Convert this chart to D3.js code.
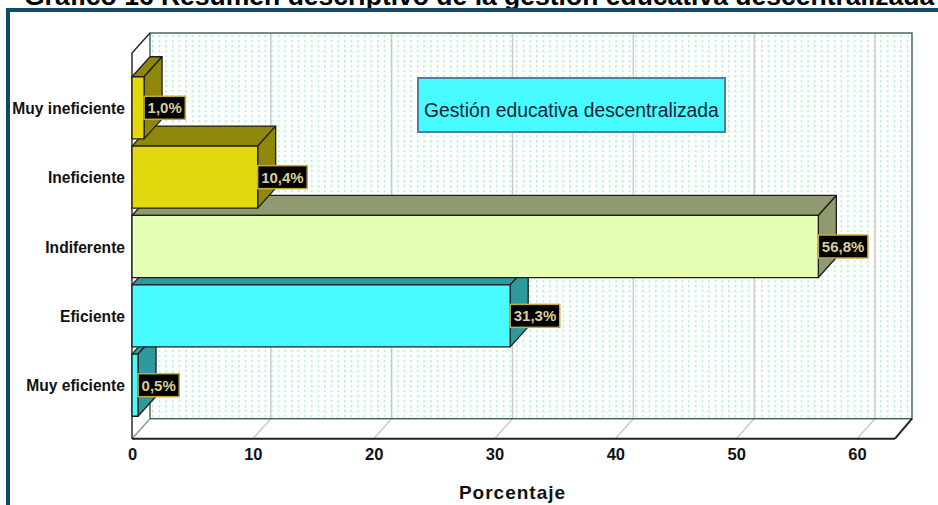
<!DOCTYPE html>
<html>
<head>
<meta charset="utf-8">
<script src="https://cdn.jsdelivr.net/npm/d3@7"></script>
<style>
  body { margin: 0; background: #fff; }
  svg { display: block; }
  text { font-family: "Liberation Sans", Arial, sans-serif; }
</style>
</head>
<body>
<div id="my_dataviz"></div>
<script>
// values, top bar first
var categories = ["Muy ineficiente", "Ineficiente", "Indiferente", "Eficiente", "Muy eficiente"];
var percentages = [1.0, 10.4, 56.8, 31.3, 0.5];
var xTicks = [0, 10, 20, 30, 40, 50, 60];
var frontColors = ["#e3d80e", "#e3d80e", "#e6ffb4", "#47fbff", "#47fbff"];
var sideColors = ["#8f870a", "#8f870a", "#909a70", "#2e9a9e", "#2e9a9e"];

var titleText = "Gráfico 16 Resumen descriptivo de la gestión educativa descentralizada";
var legendText = "Gestión educativa descentralizada";
var xTitle = "Porcentaje";

var width = 938, height = 505;
var plot = {left: 132, right: 895, top: 53, bottom: 438.7};
var depth = {x: 18, y: -20};

var svg = d3.select("#my_dataviz")
  .append("svg")
    .attr("width", width)
    .attr("height", height);

// dotted back wall
var defs = svg.append("defs");
defs.append("pattern")
    .attr("id", "dots")
    .attr("patternUnits", "userSpaceOnUse")
    .attr("x", 152)
    .attr("y", 35)
    .attr("width", 6.62)
    .attr("height", 5)
  .append("rect")
    .attr("width", 1.6)
    .attr("height", 2.4)
    .attr("fill", "#b0f4cc");

// title, cut off by the top of the page
svg.append("text")
    .attr("x", 24)
    .attr("y", 4.5)
    .attr("font-size", 26.5)
    .attr("font-weight", "bold")
    .attr("fill", "#000")
    .text(titleText);

// outer frame, open at the right and bottom edges
svg.append("path")
    .attr("d", "M8,505V10H938")
    .attr("fill", "none")
    .attr("stroke", "#0f4c64")
    .attr("stroke-width", 4);

var x = d3.scaleLinear()
    .domain([0, 60])
    .range([plot.left, 857]);

var y = d3.scaleBand()
    .domain(categories)
    .range([73.3, 419.7])
    .paddingInner(0.105)
    .paddingOuter(0.05);

var backLeft = plot.left + depth.x,
    backRight = plot.right + 17,
    backTop = plot.top + depth.y,
    backBottom = plot.bottom + depth.y;

svg.append("rect")
    .attr("x", backLeft)
    .attr("y", backTop)
    .attr("width", backRight - backLeft)
    .attr("height", backBottom - backTop)
    .attr("fill", "url(#dots)");

// grid on back wall and floor
var grid = svg.append("g")
    .selectAll("path")
    .data(xTicks.slice(1))
    .enter()
    .append("path")
    .attr("d", function(d) {
      return "M" + x(d) + "," + plot.bottom +
        "L" + (x(d) + depth.x) + "," + backBottom +
        "V" + backTop;
    })
    .attr("fill", "none")
    .attr("stroke", "#c8c8c8")
    .attr("stroke-width", 1.4);

// walls outline
svg.append("rect")
    .attr("x", backLeft)
    .attr("y", backTop)
    .attr("width", backRight - backLeft)
    .attr("height", backBottom - backTop)
    .attr("fill", "none")
    .attr("stroke", "#3f5f4e")
    .attr("stroke-width", 1.4);

svg.append("path")
    .attr("d", "M" + plot.left + "," + plot.bottom + "L" + backLeft + "," + backBottom)
    .attr("fill", "none")
    .attr("stroke", "#999")
    .attr("stroke-width", 1.6);

svg.append("path")
    .attr("d", "M" + plot.left + "," + plot.bottom + "V" + plot.top + "L" + backLeft + "," + backTop)
    .attr("fill", "none")
    .attr("stroke", "#222")
    .attr("stroke-width", 1.4);

svg.append("path")
    .attr("d", "M" + plot.right + "," + plot.bottom + "L" + backRight + "," + backBottom)
    .attr("fill", "none")
    .attr("stroke", "#222")
    .attr("stroke-width", 2);

// bars, lowest first so the upper ones sit on top
var rows = categories.map(function(c, i) {
  return {name: c, value: percentages[i], front: frontColors[i], side: sideColors[i]};
}).reverse();

var bars = svg.append("g")
    .selectAll("g")
    .data(rows)
    .enter()
    .append("g")
    .attr("stroke", "#1e1e1e")
    .attr("stroke-width", 1.3)
    .attr("stroke-linejoin", "round");

// top face
bars.append("path")
    .attr("fill", function(d) { return d.side; })
    .attr("d", function(d) {
      var x1 = x(d.value), t = y(d.name);
      return "M" + plot.left + "," + t + "l" + depth.x + "," + depth.y +
        "H" + (x1 + depth.x) + "L" + x1 + "," + t + "Z";
    });

// end face
bars.append("path")
    .attr("fill", function(d) { return d.side; })
    .attr("d", function(d) {
      var x1 = x(d.value), t = y(d.name), b = t + y.bandwidth();
      return "M" + x1 + "," + t + "l" + depth.x + "," + depth.y +
        "V" + (b + depth.y) + "L" + x1 + "," + b + "Z";
    });

bars.append("rect")
    .attr("x", plot.left)
    .attr("y", function(d) { return y(d.name); })
    .attr("width", function(d) { return x(d.value) - plot.left; })
    .attr("height", y.bandwidth())
    .attr("fill", function(d) { return d.front; });

// value labels
var labels = svg.append("g")
    .selectAll("g")
    .data(rows)
    .enter()
    .append("g")
    .attr("transform", function(d) {
      return "translate(" + x(d.value) + "," + (y(d.name) + y.bandwidth() / 2) + ")";
    });

labels.append("rect")
    .attr("y", -11.5)
    .attr("height", 23)
    .attr("fill", "#000")
    .attr("stroke", "#c9a93c")
    .attr("stroke-width", 1.5);

labels.append("text")
    .attr("y", 5.5)
    .attr("text-anchor", "middle")
    .attr("font-size", 15)
    .attr("font-weight", "bold")
    .attr("fill", "#d8cf9a")
    .text(function(d) { return d.value.toFixed(1).replace(".", ",") + "%"; });

labels.each(function() {
  var g = d3.select(this);
  var w = g.select("text").node().getComputedTextLength() + 7;
  g.select("rect").attr("width", w);
  g.select("text").attr("x", w / 2);
});

// axes
var xAxis = svg.append("g")
    .attr("transform", "translate(0," + plot.bottom + ")")
    .call(d3.axisBottom(x).tickValues(xTicks).tickSize(0).tickPadding(10).tickFormat(d3.format("d")));
xAxis.select(".domain")
    .attr("d", "M" + plot.left + ",0H" + plot.right)
    .attr("stroke", "#222")
    .attr("stroke-width", 2);
xAxis.selectAll("text")
    .attr("font-size", 16.5)
    .attr("font-weight", "bold")
    .attr("font-family", "Liberation Sans")
    .attr("fill", "#111");

var yAxis = svg.append("g")
    .attr("transform", "translate(" + plot.left + ",1)")
    .call(d3.axisLeft(y).tickSize(0).tickPadding(7));
yAxis.select(".domain").remove();
yAxis.selectAll("text")
    .attr("font-size", 15.6)
    .attr("font-weight", "bold")
    .attr("font-family", "Liberation Sans")
    .attr("fill", "#111");

svg.append("text")
    .attr("x", 512.5)
    .attr("y", 499)
    .attr("text-anchor", "middle")
    .attr("font-size", 19)
    .attr("font-weight", "bold")
    .attr("letter-spacing", 1)
    .attr("fill", "#111")
    .text(xTitle);

// legend box
svg.append("rect")
    .attr("x", 418)
    .attr("y", 78)
    .attr("width", 307)
    .attr("height", 54)
    .attr("fill", "#47fbff")
    .attr("stroke", "#4f7fa8")
    .attr("stroke-width", 2);

svg.append("text")
    .attr("x", 424)
    .attr("y", 116.5)
    .attr("font-size", 19.3)
    .attr("fill", "#123")
    .text(legendText);
</script>
</body>
</html>
